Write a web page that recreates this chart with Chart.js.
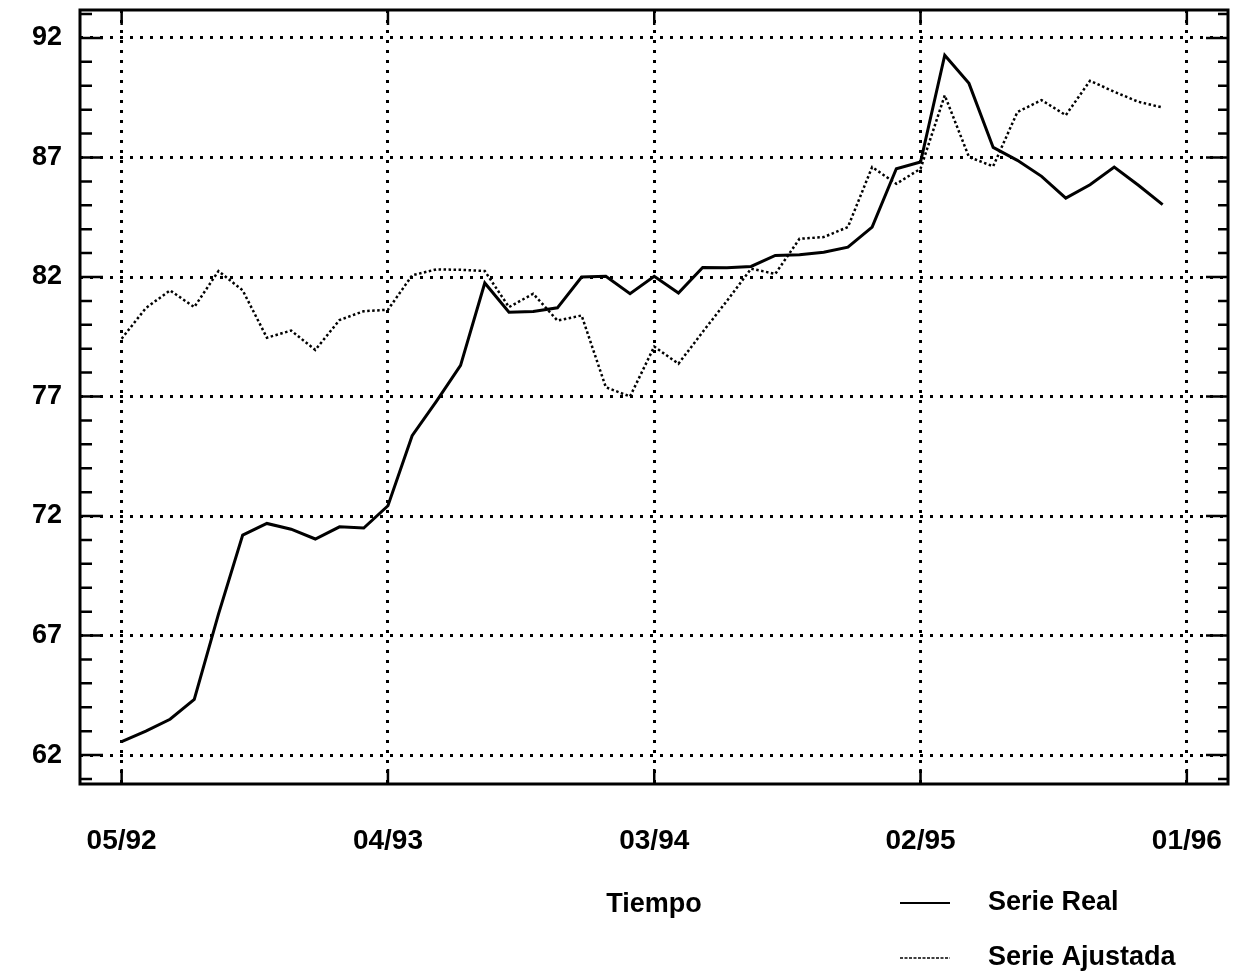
<!DOCTYPE html>
<html>
<head>
<meta charset="utf-8">
<script src="https://cdn.jsdelivr.net/npm/chart.js@4"></script>
<style>
html,body{margin:0;padding:0;background:#fff;}
#wrap{position:relative;width:1234px;height:979px;}
</style>
</head>
<body>
<div id="wrap"><canvas id="c" width="1234" height="979"></canvas></div>
<script>
const months = ['05/92','06/92','07/92','08/92','09/92','10/92','11/92','12/92',
  '01/93','02/93','03/93','04/93','05/93','06/93','07/93','08/93','09/93','10/93','11/93','12/93',
  '01/94','02/94','03/94','04/94','05/94','06/94','07/94','08/94','09/94','10/94','11/94','12/94',
  '01/95','02/95','03/95','04/95','05/95','06/95','07/95','08/95','09/95','10/95','11/95','12/95'];
const serieReal = [62.56, 63.0, 63.5, 64.33, 67.9, 71.2, 71.69, 71.45, 71.04, 71.55, 71.5, 72.43,
  75.36, 76.8, 78.3, 81.75, 80.53, 80.56, 80.71, 82.0, 82.03, 81.3, 82.03, 81.33,
  82.4, 82.39, 82.44, 82.9, 82.93, 83.04, 83.25, 84.09, 86.53, 86.81, 91.28, 90.1,
  87.42, 86.88, 86.21, 85.3, 85.86, 86.6, 85.84, 85.03];
const serieAjustada = [79.42, 80.7, 81.44, 80.74, 82.25, 81.44, 79.46, 79.76, 78.95, 80.2, 80.57, 80.63,
  82.07, 82.32, 82.3, 82.25, 80.74, 81.3, 80.18, 80.39, 77.39, 77.0, 79.09, 78.37,
  79.7, 81.0, 82.35, 82.13, 83.6, 83.67, 84.09, 86.6, 85.9, 86.53, 89.6, 87.02,
  86.63, 88.9, 89.4, 88.77, 90.21, 89.75, 89.33, 89.09];
const xTickPos = [0, 11, 22, 33, 44];
const xTickLabels = ['05/92', '04/93', '03/94', '02/95', '01/96'];
const yTicks = [62, 67, 72, 77, 82, 87, 92];
const xTitle = 'Tiempo';
const seriesNames = ['Serie Real', 'Serie Ajustada'];

const FONT = {family: '"Liberation Sans", Arial, Helvetica, sans-serif', size: 27, weight: 'bold'};
const XFONT = {family: '"Liberation Sans", Arial, Helvetica, sans-serif', size: 28, weight: 'bold'};

const framePlugin = {
  id: 'frame',
  afterDatasetsDraw(chart) {
    const {ctx, chartArea: a, scales: {x, y}} = chart;
    ctx.save();
    ctx.strokeStyle = '#000';
    ctx.lineWidth = 3;
    ctx.strokeRect(a.left, a.top, a.right - a.left, a.bottom - a.top);
    ctx.lineWidth = 2.5;
    ctx.beginPath();
    for (let v = Math.ceil(y.min); v <= Math.floor(y.max); v++) {
      const p = y.getPixelForValue(v);
      const major = yTicks.includes(v);
      ctx.moveTo(a.left, p); ctx.lineTo(a.left + (major ? 23 : 12), p);
      ctx.moveTo(a.right, p); ctx.lineTo(a.right - (major ? 22 : 10), p);
    }
    xTickPos.forEach(v => {
      const p = x.getPixelForValue(v);
      ctx.moveTo(p, a.top); ctx.lineTo(p, a.top + 15);
      ctx.moveTo(p, a.bottom); ctx.lineTo(p, a.bottom - 15);
    });
    ctx.stroke();
    // legend
    const rows = [903, 958];
    ctx.font = `${FONT.weight} ${FONT.size}px ${FONT.family}`;
    ctx.textBaseline = 'middle';
    ctx.textAlign = 'left';
    chart.data.datasets.forEach((ds, i) => {
      const yy = rows[i];
      ctx.save();
      ctx.lineWidth = ds.legendWidth;
      ctx.setLineDash(ds.legendDash || []);
      ctx.strokeStyle = ds.borderColor;
      ctx.beginPath();
      ctx.moveTo(900, yy); ctx.lineTo(950, yy);
      ctx.stroke();
      ctx.restore();
      ctx.fillStyle = '#000';
      ctx.fillText(ds.label, 988, yy);
    });
    ctx.restore();
  }
};

new Chart(document.getElementById('c'), {
  type: 'line',
  data: {
    datasets: [
      {label: seriesNames[0], data: serieReal.map((v, i) => ({x: i, y: v})),
       borderColor: '#000', borderWidth: 3, legendWidth: 2, pointRadius: 0, tension: 0, fill: false},
      {label: seriesNames[1], data: serieAjustada.map((v, i) => ({x: i, y: v})),
       borderColor: '#000', borderWidth: 2.5, borderDash: [2.5, 2.5], legendWidth: 1.5, legendDash: [3, 1.5],
       pointRadius: 0, tension: 0, fill: false}
    ]
  },
  options: {
    responsive: false,
    animation: false,
    devicePixelRatio: 1,
    layout: {padding: {top: 10, right: 6, left: 0, bottom: 0}},
    plugins: {legend: {display: false}, tooltip: {enabled: false}},
    scales: {
      x: {
        type: 'linear', min: -1.72, max: 45.7,
        afterBuildTicks: s => { s.ticks = xTickPos.map(v => ({value: v})); },
        afterFit: s => { s.height = 195; s.paddingLeft = 0; s.paddingRight = 0; },
        ticks: {
          autoSkip: false, maxRotation: 0, padding: 40, color: '#000', font: XFONT,
          callback: v => xTickLabels[xTickPos.indexOf(v)]
        },
        grid: {color: '#000', lineWidth: 3, drawTicks: false},
        border: {display: false, dash: [3, 7]},
        title: {display: true, text: xTitle, color: '#000', font: FONT, padding: {top: 0, bottom: 58}}
      },
      y: {
        type: 'linear', min: 60.79, max: 93.17,
        afterBuildTicks: s => { s.ticks = yTicks.map(v => ({value: v})); },
        afterFit: s => { s.width = 80; s.paddingTop = 0; s.paddingBottom = 0; },
        ticks: {padding: 18, color: '#000', font: FONT},
        grid: {color: '#000', lineWidth: 3, drawTicks: false},
        border: {display: false, dash: [3, 7]}
      }
    }
  },
  plugins: [framePlugin]
});
</script>
</body>
</html>
